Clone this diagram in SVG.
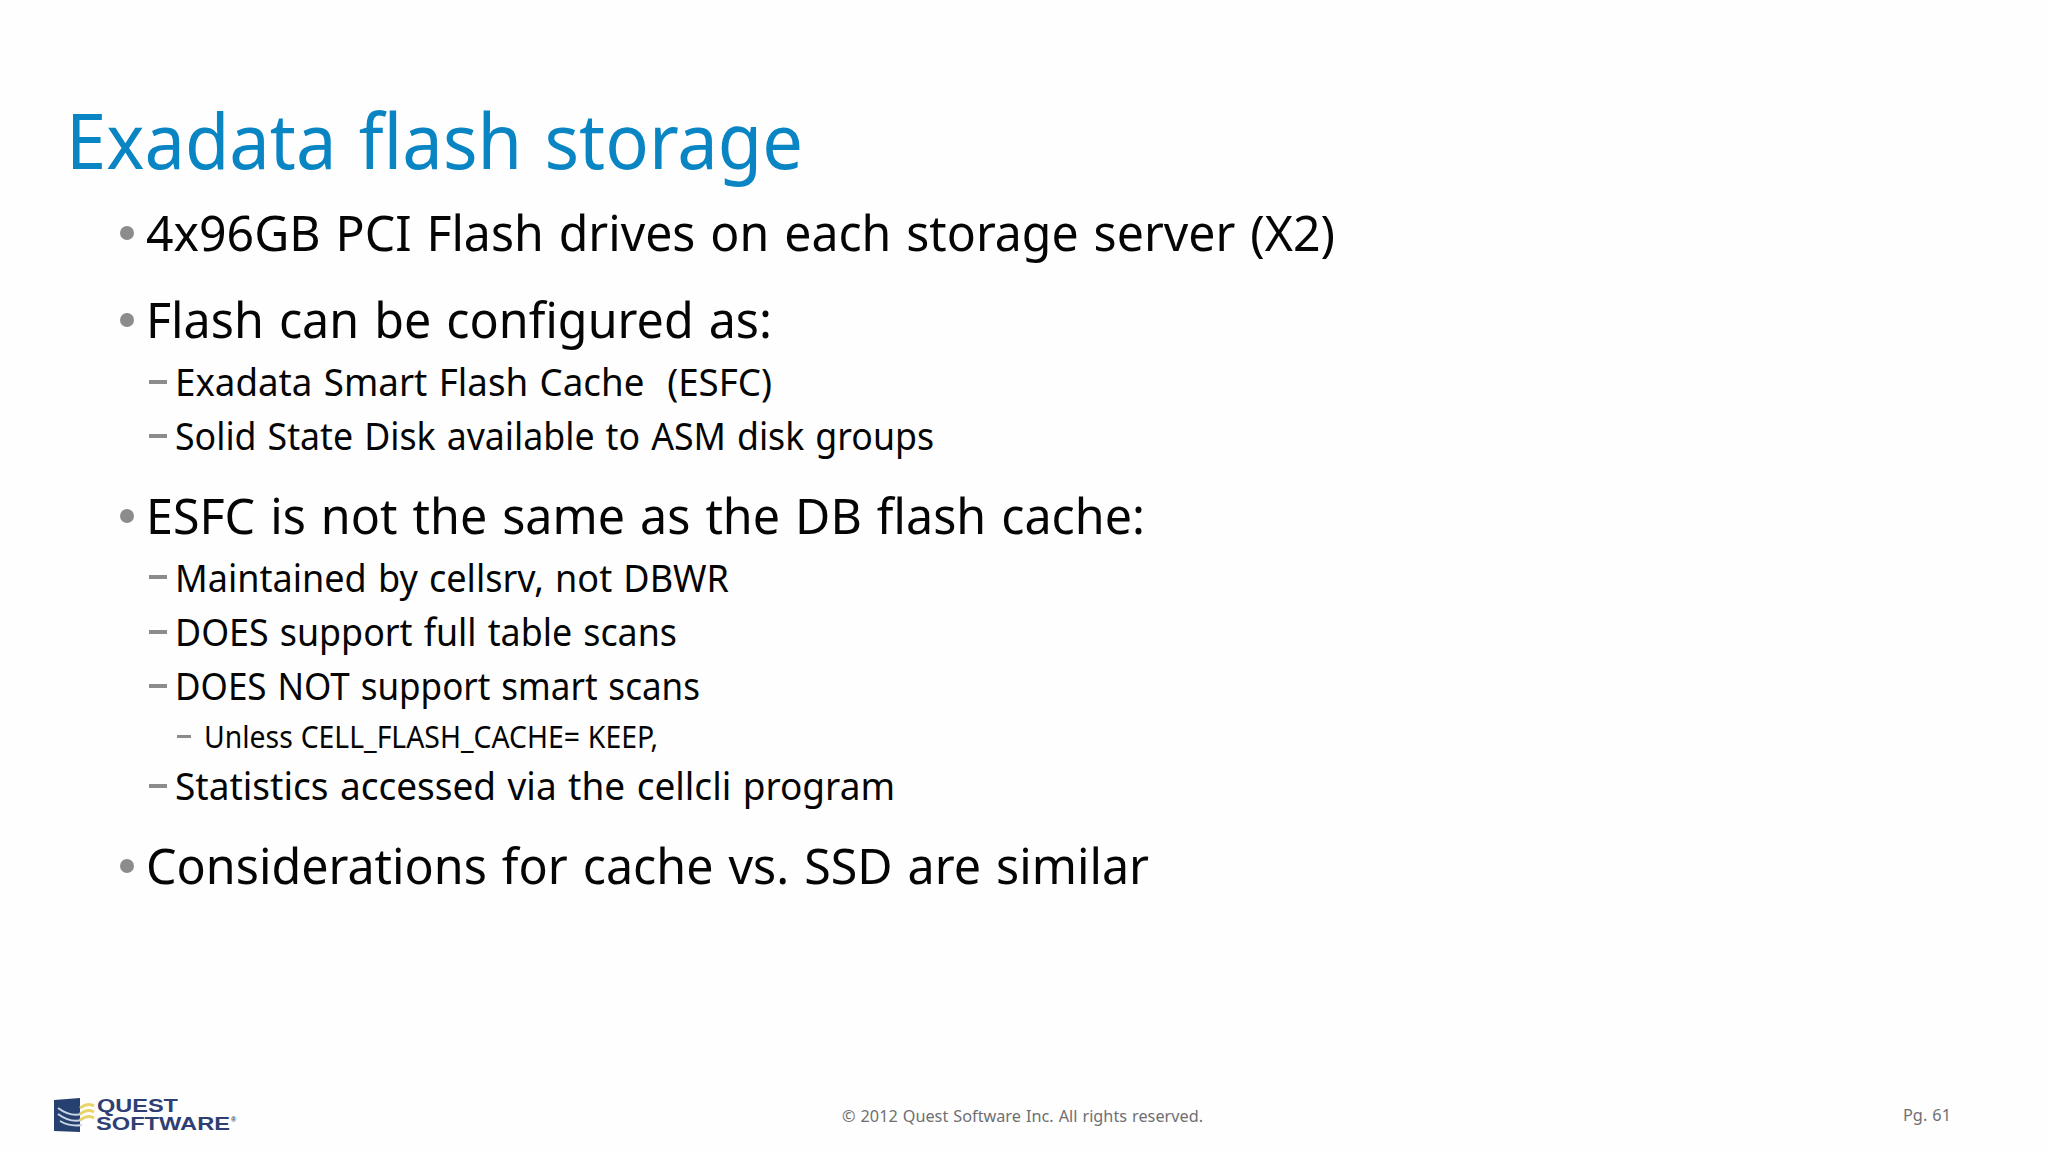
<svg xmlns="http://www.w3.org/2000/svg" width="2048" height="1152" viewBox="0 0 2048 1152">
<style>
text{font-family:"Noto Sans","DejaVu Sans",sans-serif;fill:#050505;word-spacing:.05em}
.t{font-size:77px;fill:#0a85c4}
.a{font-size:50px}
.b{font-size:38px}
.c{font-size:31px;word-spacing:.02em}
.f{font-size:17px;fill:#6f6f72}
.l{font-family:"Liberation Sans",Arial,sans-serif;font-weight:700;fill:#2f3f73;font-size:17.5px;word-spacing:0}
.dot{fill:#8c8c8c}
.dash{fill:#8c8c8c}
</style>
<rect width="2048" height="1152" fill="#fefefe"/>
<text class="t" x="66" y="169" textLength="737" lengthAdjust="spacingAndGlyphs">Exadata flash storage</text>
<g id="bullets">
<circle class="dot" cx="127" cy="233" r="7"/>
<text class="a" x="146" y="251" textLength="1189" lengthAdjust="spacingAndGlyphs">4x96GB PCI Flash drives on each storage server (X2)</text>
<circle class="dot" cx="127" cy="320" r="7"/>
<text class="a" x="146" y="338" textLength="626" lengthAdjust="spacingAndGlyphs">Flash can be configured as:</text>
<rect class="dash" x="149" y="380" width="18" height="4"/>
<text class="b" x="175" y="396" textLength="597" lengthAdjust="spacingAndGlyphs" xml:space="preserve">Exadata Smart Flash Cache  (ESFC)</text>
<rect class="dash" x="149" y="434" width="18" height="4"/>
<text class="b" x="175" y="450" textLength="759" lengthAdjust="spacingAndGlyphs">Solid State Disk available to ASM disk groups</text>
<circle class="dot" cx="127" cy="516" r="7"/>
<text class="a" x="146" y="534" textLength="999" lengthAdjust="spacingAndGlyphs">ESFC is not the same as the DB flash cache:</text>
<rect class="dash" x="149" y="575" width="18" height="4"/>
<text class="b" x="175" y="592" textLength="554" lengthAdjust="spacingAndGlyphs">Maintained by cellsrv, not DBWR</text>
<rect class="dash" x="149" y="630" width="18" height="4"/>
<text class="b" x="175" y="646" textLength="502" lengthAdjust="spacingAndGlyphs">DOES support full table scans</text>
<rect class="dash" x="149" y="684" width="18" height="4"/>
<text class="b" x="175" y="700" textLength="525" lengthAdjust="spacingAndGlyphs">DOES NOT support smart scans</text>
<rect class="dash" x="177" y="735" width="14" height="3"/>
<text class="c" x="204" y="748" textLength="454" lengthAdjust="spacingAndGlyphs">Unless CELL_FLASH_CACHE= KEEP,</text>
<rect class="dash" x="149" y="784" width="18" height="4"/>
<text class="b" x="175" y="800" textLength="720" lengthAdjust="spacingAndGlyphs">Statistics accessed via the cellcli program</text>
<circle class="dot" cx="127" cy="866" r="7"/>
<text class="a" x="146" y="884" textLength="1003" lengthAdjust="spacingAndGlyphs">Considerations for cache vs. SSD are similar</text>
</g>
<g id="footer">
<text class="f" x="842" y="1122" textLength="361" lengthAdjust="spacingAndGlyphs">© 2012 Quest Software Inc. All rights reserved.</text>
<text class="f" x="1903" y="1121" textLength="48" lengthAdjust="spacingAndGlyphs">Pg. 61</text>
</g>
<g id="logo">
<path d="M54 1100 L80 1098 L80 1132 L54 1131Z" fill="#26406f"/>
<path d="M58 1108q12 9 24 6M58 1114q12 9 24 6M60 1121q10 6 22 4" fill="none" stroke="#c9d6e6" stroke-width="2"/>
<path d="M80 1108q8-6 14-2M80 1114q8-6 14-2M80 1120q8-6 14-2" fill="none" stroke="#e8d468" stroke-width="3"/>
<text class="l" x="97" y="1112" textLength="81" lengthAdjust="spacingAndGlyphs">QUEST</text>
<text class="l" x="96" y="1130" textLength="134" lengthAdjust="spacingAndGlyphs">SOFTWARE</text>
<text class="l" x="231" y="1122" style="font-size:7px">®</text>
</g>
</svg>
